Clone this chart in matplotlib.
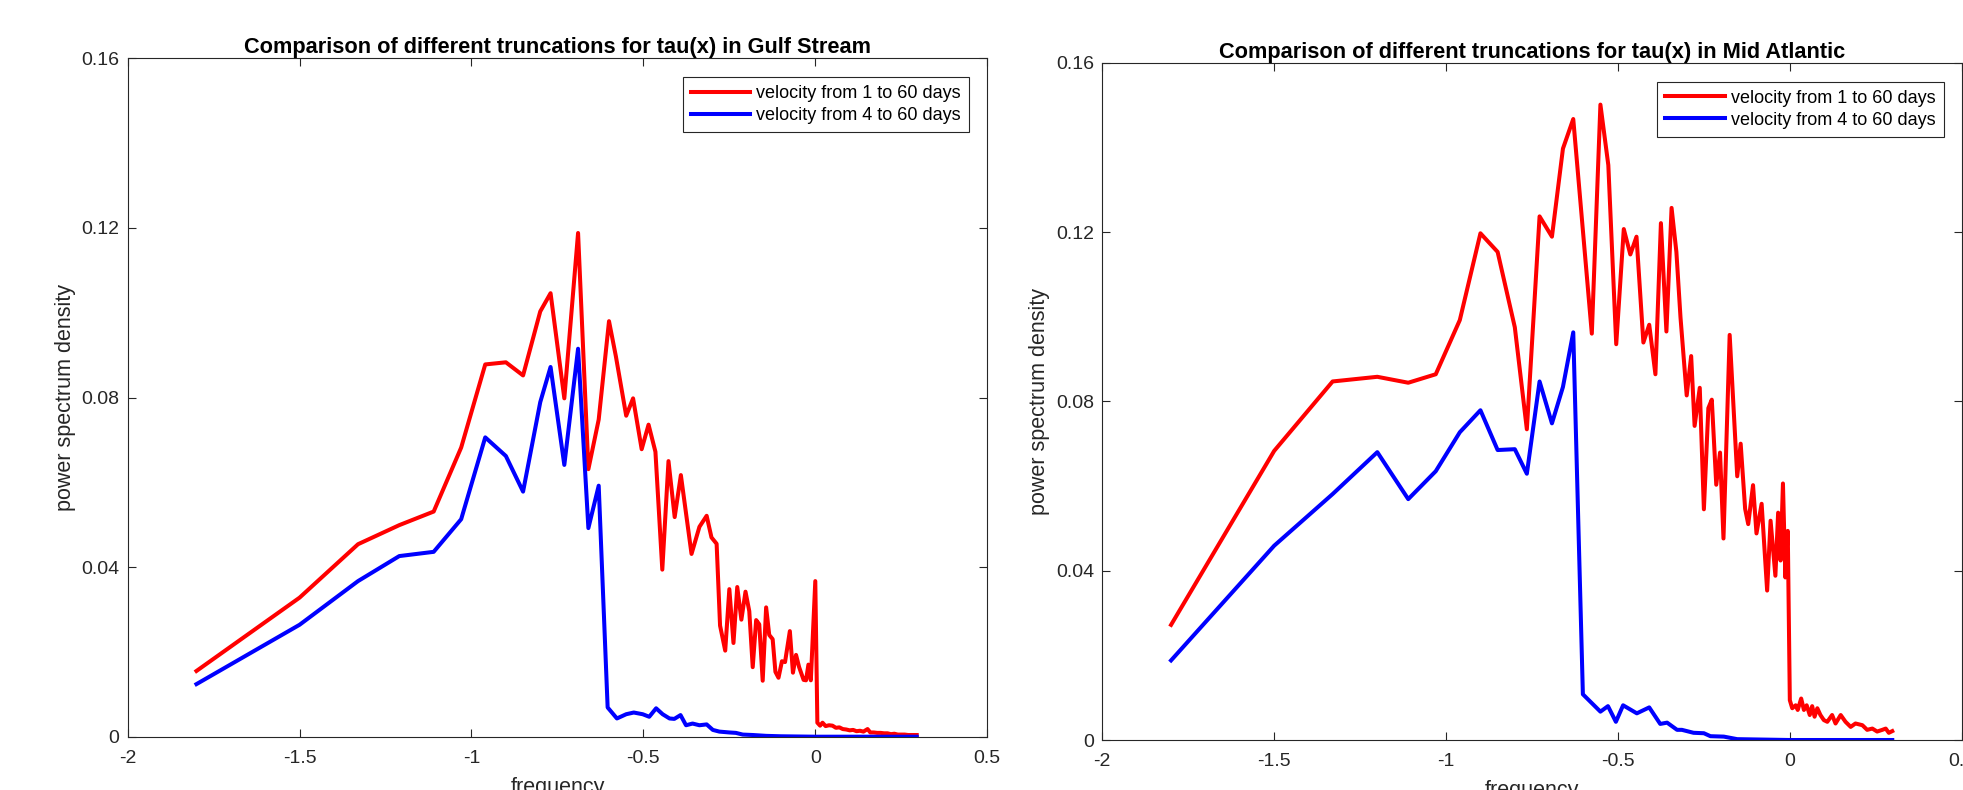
import numpy as np
import matplotlib
matplotlib.use('Agg')
import matplotlib.pyplot as plt

plt.rcParams['font.family'] = ['Liberation Sans', 'DejaVu Sans']

# Gulf Stream: velocity from 1 to 60 days
gs_x_1 = [-1.80, -1.50, -1.33, -1.21, -1.11, -1.03, -0.96, -0.90, -0.85, -0.80,
          -0.77, -0.73, -0.69, -0.66, -0.63, -0.60, -0.58, -0.55, -0.53, -0.505,
          -0.485, -0.465, -0.445, -0.427, -0.409, -0.391, -0.360, -0.337, -0.316, -0.302,
          -0.287, -0.277, -0.262, -0.250, -0.238, -0.227, -0.215, -0.203, -0.192, -0.182,
          -0.172, -0.163, -0.153, -0.143, -0.134, -0.124, -0.116, -0.107, -0.097, -0.088,
          -0.074, -0.065, -0.056, -0.047, -0.034, -0.027, -0.020, -0.013, 0.000, 0.006,
          0.014, 0.021, 0.030, 0.040, 0.050, 0.060, 0.070, 0.080, 0.090, 0.100,
          0.110, 0.120, 0.130, 0.140, 0.152, 0.160, 0.170, 0.180, 0.190, 0.200,
          0.210, 0.220, 0.230, 0.240, 0.250, 0.260, 0.270, 0.280, 0.295]
gs_y_1 = [0.0155, 0.0328, 0.0454, 0.0499, 0.0531, 0.0682, 0.0878, 0.0883, 0.0852, 0.1003,
          0.1046, 0.0798, 0.1188, 0.0631, 0.0748, 0.0980, 0.0897, 0.0757, 0.0798, 0.0678,
          0.0736, 0.0672, 0.0394, 0.0650, 0.0518, 0.0617, 0.0431, 0.0495, 0.0521, 0.0470,
          0.0455, 0.0262, 0.0203, 0.0348, 0.0221, 0.0353, 0.0276, 0.0342, 0.0296, 0.0164,
          0.0275, 0.0265, 0.0132, 0.0305, 0.0240, 0.0230, 0.0153, 0.0139, 0.0178, 0.0176,
          0.0249, 0.0151, 0.0193, 0.0164, 0.0134, 0.0133, 0.0170, 0.0133, 0.0367, 0.0033,
          0.0026, 0.0033, 0.0025, 0.0027, 0.0026, 0.0021, 0.0022, 0.0018, 0.0017, 0.0015,
          0.0016, 0.0013, 0.0014, 0.0012, 0.0018, 0.0010, 0.0010, 0.0009, 0.0009, 0.0008,
          0.0008, 0.0006, 0.0007, 0.0005, 0.0005, 0.0005, 0.0004, 0.0004, 0.0004]

# Gulf Stream: velocity from 4 to 60 days
gs_x_4 = [-1.80, -1.50, -1.33, -1.21, -1.11, -1.03, -0.96, -0.90, -0.85, -0.80,
          -0.77, -0.73, -0.69, -0.66, -0.63, -0.604, -0.577, -0.550, -0.528, -0.502,
          -0.483, -0.463, -0.444, -0.424, -0.410, -0.392, -0.376, -0.357, -0.337, -0.316,
          -0.298, -0.279, -0.250, -0.231, -0.211, -0.182, -0.143, -0.100, 0.000, 0.295]
gs_y_4 = [0.0124, 0.0264, 0.0367, 0.0426, 0.0436, 0.0513, 0.0706, 0.0662, 0.0578, 0.0789,
          0.0872, 0.0641, 0.0915, 0.0492, 0.0592, 0.0069, 0.0043, 0.0053, 0.0057, 0.0053,
          0.0047, 0.0067, 0.0053, 0.0043, 0.0042, 0.0051, 0.0027, 0.0031, 0.0027, 0.0029,
          0.0016, 0.0012, 0.0010, 0.0009, 0.0005, 0.0004, 0.0002, 0.0001, 0.0000, 0.0000]

# Mid Atlantic: velocity from 1 to 60 days
ma_x_1 = [-1.80, -1.50, -1.33, -1.20, -1.11, -1.03, -0.96, -0.90, -0.85, -0.80,
          -0.765, -0.728, -0.692, -0.660, -0.630, -0.576, -0.551, -0.528, -0.505, -0.483,
          -0.464, -0.446, -0.426, -0.409, -0.391, -0.375, -0.359, -0.344, -0.330, -0.318,
          -0.300, -0.287, -0.277, -0.262, -0.250, -0.237, -0.227, -0.214, -0.203, -0.193,
          -0.175, -0.153, -0.143, -0.130, -0.121, -0.107, -0.097, -0.082, -0.066, -0.056,
          -0.042, -0.034, -0.027, -0.020, -0.013, -0.006, 0.000, 0.007, 0.017, 0.023,
          0.033, 0.041, 0.049, 0.058, 0.065, 0.072, 0.080, 0.089, 0.099, 0.109,
          0.123, 0.133, 0.148, 0.162, 0.177, 0.191, 0.211, 0.225, 0.240, 0.254,
          0.269, 0.279, 0.288, 0.298]
ma_y_1 = [0.0272, 0.0683, 0.0847, 0.0858, 0.0844, 0.0864, 0.0992, 0.1197, 0.1153, 0.0975,
          0.0734, 0.1237, 0.1189, 0.1397, 0.1467, 0.0960, 0.1501, 0.1358, 0.0935, 0.1207,
          0.1147, 0.1189, 0.0939, 0.0981, 0.0864, 0.1221, 0.0965, 0.1257, 0.1153, 0.0998,
          0.0814, 0.0907, 0.0742, 0.0832, 0.0545, 0.0784, 0.0804, 0.0603, 0.0679, 0.0476,
          0.0957, 0.0623, 0.0700, 0.0546, 0.0510, 0.0602, 0.0488, 0.0558, 0.0353, 0.0518,
          0.0388, 0.0537, 0.0424, 0.0606, 0.0384, 0.0494, 0.0094, 0.0075, 0.0082, 0.0071,
          0.0098, 0.0071, 0.0082, 0.0059, 0.0080, 0.0055, 0.0075, 0.0059, 0.0047, 0.0043,
          0.0059, 0.0039, 0.0059, 0.0043, 0.0031, 0.0039, 0.0035, 0.0024, 0.0027, 0.0020,
          0.0024, 0.0027, 0.0017, 0.0021]

# Mid Atlantic: velocity from 4 to 60 days
ma_x_4 = [-1.80, -1.50, -1.33, -1.20, -1.11, -1.03, -0.96, -0.90, -0.85, -0.80,
          -0.765, -0.728, -0.692, -0.660, -0.630, -0.602, -0.551, -0.529, -0.506, -0.485,
          -0.445, -0.409, -0.377, -0.357, -0.328, -0.314, -0.280, -0.250, -0.231, -0.192,
          -0.153, 0.000, 0.298]
ma_y_4 = [0.0188, 0.0459, 0.0581, 0.0680, 0.0569, 0.0635, 0.0727, 0.0779, 0.0685, 0.0687,
          0.0629, 0.0847, 0.0748, 0.0834, 0.0963, 0.0108, 0.0067, 0.0080, 0.0043, 0.0082,
          0.0063, 0.0077, 0.0038, 0.0041, 0.0024, 0.0024, 0.0017, 0.0016, 0.0009, 0.0008,
          0.0002, 0.0000, 0.0000]

x_ticks = [-2, -1.5, -1, -0.5, 0, 0.5]
x_tick_labels = ['-2', '-1.5', '-1', '-0.5', '0', '0.5']
y_ticks = [0, 0.04, 0.08, 0.12, 0.16]
y_tick_labels = ['0', '0.04', '0.08', '0.12', '0.16']

label_1 = 'velocity from 1 to 60 days'
label_4 = 'velocity from 4 to 60 days'

fig = plt.figure(figsize=(19.63, 7.90), dpi=100)
ax_gs = fig.add_axes([0.06505, 0.06747, 0.43785, 0.85873])
ax_ma = fig.add_axes([0.56154, 0.06329, 0.43780, 0.85734])

panels = [
    (ax_gs, gs_x_1, gs_y_1, gs_x_4, gs_y_4,
     'Comparison of different truncations for tau(x) in Gulf Stream'),
    (ax_ma, ma_x_1, ma_y_1, ma_x_4, ma_y_4,
     'Comparison of different truncations for tau(x) in Mid Atlantic'),
]

axis_color = '#262626'

for ax, x1, y1, x4, y4, title in panels:
    ax.plot(x1, y1, color='#ff0000', linewidth=2.9, label=label_1)
    ax.plot(x4, y4, color='#0000ff', linewidth=2.9, label=label_4)

    ax.set_xlim(-2, 0.5)
    ax.set_ylim(0, 0.16)
    ax.set_xticks(x_ticks)
    ax.set_xticklabels(x_tick_labels)
    ax.set_yticks(y_ticks)
    ax.set_yticklabels(y_tick_labels)

    ax.tick_params(axis='both', direction='in', length=6, width=0.8,
                   color=axis_color, labelcolor=axis_color, labelsize=14,
                   top=True, right=True)
    ax.tick_params(axis='x', pad=9.3)
    ax.tick_params(axis='y', pad=6)
    for s in ax.spines.values():
        s.set_color(axis_color)
        s.set_linewidth(0.8)

    ax.set_title(title, fontsize=15.7, fontweight='bold', pad=3.6, color='black')
    ax.set_xlabel('frequency', fontsize=15.5, color=axis_color, labelpad=7.5)
    ax.set_ylabel('power spectrum density', fontsize=15.5, color=axis_color)

    leg = ax.legend(loc='upper right', bbox_to_anchor=(1 - 18 / 859.5, 1 - 19 / 678),
                    borderaxespad=0, fontsize=13, handlelength=3.3,
                    handletextpad=0.33, borderpad=0.45, labelspacing=0.26,
                    fancybox=False, framealpha=1)
    leg.get_frame().set_edgecolor(axis_color)
    leg.get_frame().set_linewidth(0.8)

fig.savefig('out.png', dpi=100)
